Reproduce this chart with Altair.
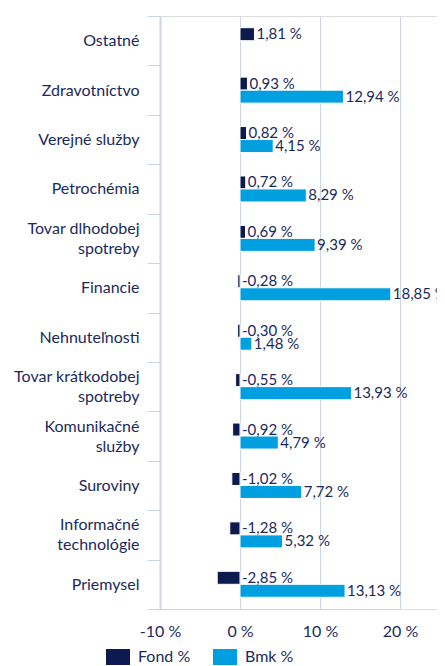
import altair as alt
import pandas as pd

categories = ["Ostatné", "Zdravotníctvo", "Verejné služby", "Petrochémia",
              "Tovar dlhodobej|spotreby", "Financie", "Nehnuteľnosti",
              "Tovar krátkodobej|spotreby", "Komunikačné|služby", "Suroviny",
              "Informačné|technológie", "Priemysel"]
fond = [1.81, 0.93, 0.82, 0.72, 0.69, -0.28, -0.30, -0.55, -0.92, -1.02, -1.28, -2.85]
bmk = [None, 12.94, 4.15, 8.29, 9.39, 18.85, 1.48, 13.93, 4.79, 7.72, 5.32, 13.13]
series = ["Fond %", "Bmk %"]
x_ticks = [-10, 0, 10, 20]

NAVY = "#0c1a4f"
BLUE = "#009fe0"
TEXT = "#1b2a5c"
GRID = "#cad5e6"
FONT = "Lato"

rows = []
for c, f, b in zip(categories, fond, bmk):
    for s, v in ((series[0], f), (series[1], b)):
        if v is None:
            continue
        rows.append({"cat": c, "series": s, "value": v,
                     "xpos": max(v, 0),
                     "label": f"{v:.2f}".replace(".", ",") + " %"})
df = pd.DataFrame(rows)

label_expr = ("indexof(datum.label, '|') >= 0 ? "
              "[split(datum.label, '|')[0], '\u2800', split(datum.label, '|')[1]] : "
              "['\u00a0', datum.label]")

y_enc = alt.Y("cat:N", sort=categories,
              scale=alt.Scale(paddingInner=0, paddingOuter=0),
              axis=alt.Axis(title=None, tickBand="extent", tickSize=13,
                            tickColor=GRID, domainColor=GRID, domainWidth=2,
                            labelExpr=label_expr,
                            labelFontSize=16, labelColor=TEXT, labelFont=FONT,
                            labelPadding=8, labelLineHeight=10, labelOffset=-10,
                            minExtent=147, maxExtent=147))
yoff = alt.YOffset("series:N", sort=series,
                   scale=alt.Scale(domain=series, paddingOuter=0.9, paddingInner=0))
x_axis = alt.Axis(title=None, values=x_ticks, labelExpr="datum.value + ' %'",
                  grid=True, gridColor=GRID, ticks=False, domainColor=GRID,
                  labelFlush=False,
                  labelFontSize=16, labelColor=TEXT, labelFont=FONT, labelPadding=14)
x_scale = alt.Scale(domain=[-10, 20], nice=False, range=[0, 240])

bars = alt.Chart(df).mark_bar(stroke="white", strokeWidth=1).encode(
    x=alt.X("value:Q", scale=x_scale, axis=x_axis),
    y=y_enc,
    yOffset=yoff,
    color=alt.Color("series:N", sort=series,
                    scale=alt.Scale(domain=series, range=[NAVY, BLUE]),
                    legend=alt.Legend(title=None, orient="none", legendX=-50, legendY=633,
                                      direction="horizontal",
                                      symbolType="M-1.5,-1H1.5V1H-1.5Z", symbolSize=256,
                                      symbolStrokeWidth=0,
                                      labelFontSize=16, labelColor=TEXT, labelFont=FONT,
                                      columnPadding=22, labelOffset=12, padding=0)),
)

labels = alt.Chart(df).mark_text(align="left", baseline="middle", dx=2, clip=True,
                                 fontSize=15, font=FONT, color=TEXT).encode(
    x=alt.X("xpos:Q", scale=x_scale, axis=x_axis),
    y=y_enc,
    yOffset=yoff,
    text="label:N",
)

chart = alt.layer(bars, labels).properties(
    width=277, height=593,
    padding={"left": 5, "top": 0, "right": 0, "bottom": 0},
).configure_view(stroke=None).configure(font=FONT)

chart.save("out.html", embed_options={"renderer": "svg", "actions": False})
